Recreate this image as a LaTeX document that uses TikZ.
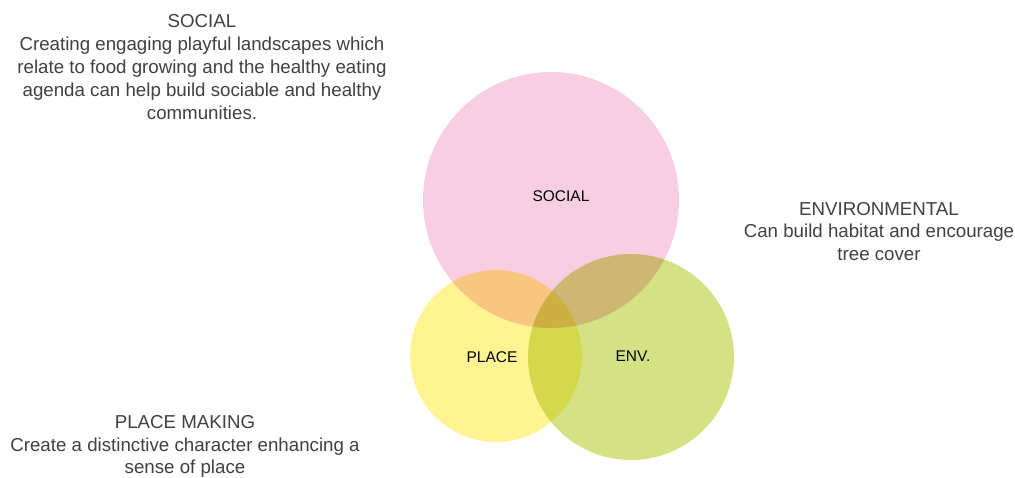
\documentclass[tikz,border=0pt]{standalone}
\usepackage{fontspec}
\setmainfont{Liberation Sans}
\definecolor{pinkc}{RGB}{248,207,226}
\definecolor{yellowc}{RGB}{255,244,145}
\definecolor{greenc}{RGB}{212,226,133}
\definecolor{txtgray}{RGB}{64,64,64}
\begin{document}
\begin{tikzpicture}[x=1pt,y=-1pt,
  venn/.style={circle,draw=none,inner sep=0pt},
  desc/.style={align=center,text=txtgray,font=\fontsize{18.7}{22.8}\selectfont,inner sep=0pt},
  lab/.style={text=black,font=\fontsize{15.5}{18}\selectfont,inner sep=0pt}]
\useasboundingbox (0,0) rectangle (1015,477);
\begin{scope}[blend group=multiply]
\node[venn,fill=pinkc,minimum size=256pt] (soc) at (551,200) {};
\node[venn,fill=yellowc,minimum size=172pt] (plc) at (496,356) {};
\node[venn,fill=greenc,minimum size=206pt] (env) at (631,357) {};
\end{scope}
\node[lab] (socl) at (561,196) {SOCIAL};
\node[lab] (plcl) at (492,357) {PLACE};
\node[lab] (envl) at (633,356) {ENV.};
\node[desc] (socd) at (202,67) {SOCIAL\\Creating engaging playful landscapes which\\relate to food growing and the healthy eating\\agenda can help build sociable and healthy\\communities.};
\node[desc] (envd) at (879,231.5) {ENVIRONMENTAL\\Can build habitat and encourage\\tree cover};
\node[desc] (plcd) at (185,446.5) {PLACE MAKING\\Create a distinctive character enhancing a\\sense of place};
\end{tikzpicture}
\end{document}
